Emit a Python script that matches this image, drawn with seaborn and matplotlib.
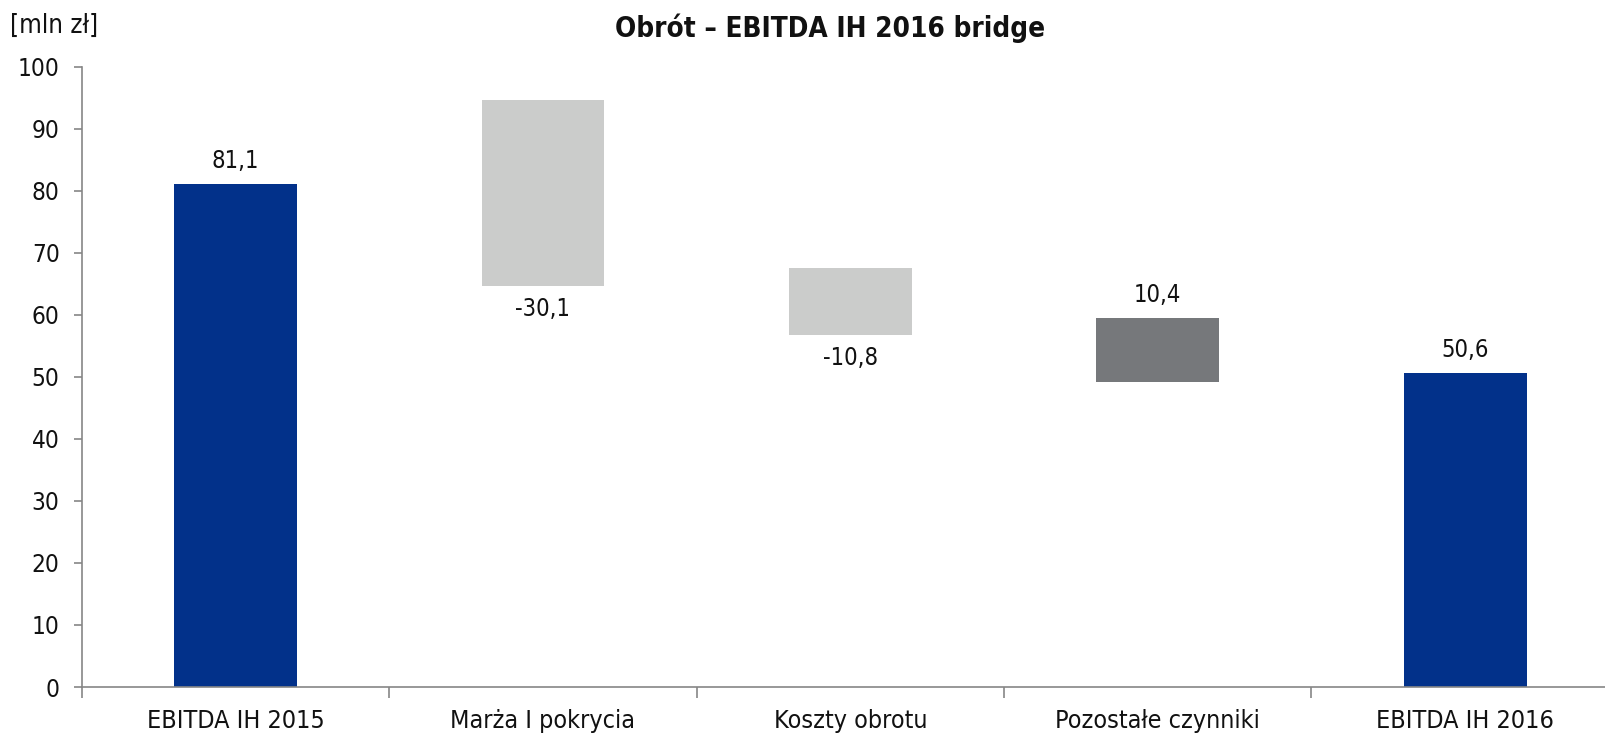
import matplotlib
matplotlib.use("Agg")
import matplotlib.pyplot as plt
import seaborn as sns
import numpy as np
import pandas as pd

categories = ["EBITDA IH 2015", "Marża I pokrycia", "Koszty obrotu", "Pozostałe czynniki", "EBITDA IH 2016"]
bar_bottoms = [0.0, 64.6, 56.8, 49.1, 0.0]
bar_tops = [81.1, 94.7, 67.6, 59.5, 50.6]
value_labels = ["81,1", "-30,1", "-10,8", "10,4", "50,6"]
label_above = [True, False, False, True, True]
bar_colors = ["#02318A", "#CBCCCB", "#CBCCCB", "#76787B", "#02318A"]
y_ticks = [0, 10, 20, 30, 40, 50, 60, 70, 80, 90, 100]

sns.set_theme(style="white")
plt.rcParams["font.family"] = ["DejaVu Sans"]
plt.rcParams["font.stretch"] = "condensed"

df = pd.DataFrame({
    "cat": categories,
    "height": np.array(bar_tops) - np.array(bar_bottoms),
    "bottom": bar_bottoms,
})

fig = plt.figure(figsize=(16.06, 7.35), dpi=100)
ax = fig.add_axes([0.051, 0.0653, 0.957, 0.844])

sns.barplot(data=df, x="cat", y="height", order=categories, bottom=df["bottom"].values,
            width=0.4, color=bar_colors[0], ax=ax, errorbar=None, saturation=1)
for patch, c in zip(ax.patches, bar_colors):
    patch.set_facecolor(c)
    patch.set_edgecolor("none")

for i, (lab, above) in enumerate(zip(value_labels, label_above)):
    if above:
        ax.annotate(lab, (i, bar_tops[i]), xytext=(0, 8), textcoords="offset points",
                    ha="center", va="bottom", fontsize=17, color="#111111")
    else:
        ax.annotate(lab, (i, bar_bottoms[i]), xytext=(0, -8), textcoords="offset points",
                    ha="center", va="top", fontsize=17, color="#111111")

ax.set_xlim(-0.5, 4.5)
ax.set_ylim(0, 100)
ax.set_yticks(y_ticks)
ax.set_yticklabels([str(t) for t in y_ticks], fontsize=17.5)
ax.set_xticks(range(len(categories)))
ax.set_xticklabels(categories, fontsize=18)
ax.set_xticks(np.arange(-0.5, 4.6, 1.0), minor=True)
ax.tick_params(axis="x", which="major", length=0, pad=16, colors="#111111")
ax.tick_params(axis="x", which="minor", bottom=True, length=8, width=1.2, color="#868686", direction="out")
ax.tick_params(axis="y", which="major", length=6, width=1.2, color="#868686", direction="out",
               pad=10, left=True, labelcolor="#111111")
ax.set_xlabel("")
ax.set_ylabel("")
for side in ["top", "right"]:
    ax.spines[side].set_visible(False)
for side in ["left", "bottom"]:
    ax.spines[side].set_color("#868686")
    ax.spines[side].set_linewidth(1.2)
ax.grid(False)

fig.text(0.517, 0.962, "Obrót – EBITDA IH 2016 bridge", ha="center", va="center",
         fontsize=20, fontweight="bold", color="#111111")
fig.text(0.006, 0.965, "[mln zł]", ha="left", va="center", fontsize=18.5, color="#111111")

fig.savefig("out.png", dpi=100)
